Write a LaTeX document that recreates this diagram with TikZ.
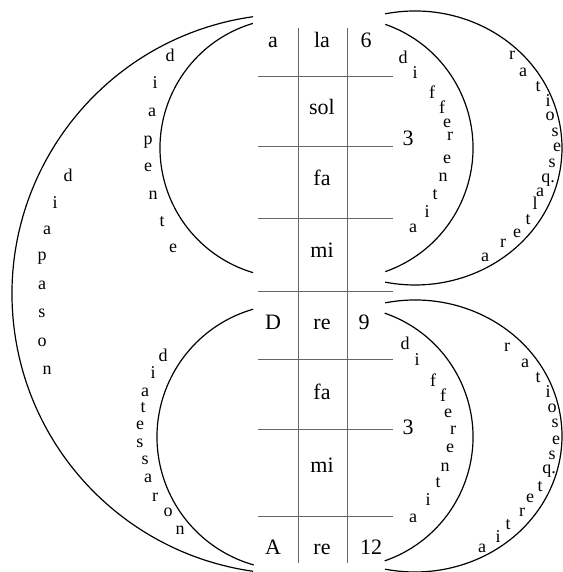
\documentclass[tikz,border=0pt]{standalone}
\usepackage{fontspec}
\setmainfont{Liberation Serif}
\usetikzlibrary{positioning}

\begin{document}
\begin{tikzpicture}[x=1pt, y=-1pt, line width=1.1pt,
    arcline/.style={draw=black, line width=1.2pt},
    rule/.style={draw=black!60, line width=0.9pt},
    cell/.style={font=\fontsize{22}{24}\selectfont, inner sep=0pt, text height=1.5ex, text depth=.25ex},
    ltr/.style={font=\fontsize{18}{20}\selectfont, inner sep=0pt}]
    \useasboundingbox (0,0) rectangle (562,572);
    % table
    \draw[rule] (298,28) -- (298,563);
    \draw[rule] (347,28) -- (347,563);
    \foreach \ry in {76,146,218,291,359,429,516}
      \draw[rule] (258,\ry) -- (393,\ry);
    \node[cell] (ca) at (273,45) {a};
    \node[cell] (cla) at (322,45) {la};
    \node[cell] (csix) at (366,45) {6};
    \node[cell] (csol) at (322,112) {sol};
    \node[cell] (cthreea) at (408,143) {3};
    \node[cell] (cfaa) at (322,183) {fa};
    \node[cell] (cmia) at (322,255) {mi};
    \node[cell] (cD) at (273,327) {D};
    \node[cell] (crea) at (322,327) {re};
    \node[cell] (cnine) at (364,327) {9};
    \node[cell] (cfab) at (322,397) {fa};
    \node[cell] (cthreeb) at (408,432) {3};
    \node[cell] (cmib) at (322,470) {mi};
    \node[cell] (cA) at (273,552) {A};
    \node[cell] (creb) at (322,552) {re};
    \node[cell] (ctwelve) at (371,552) {12};
    % left arcs
    \draw[arcline] (292,294) ++(262:280) arc[start angle=262, end angle=98, radius=280];
    \draw[arcline] (290,148) ++(253.4:130) arc[start angle=253.4, end angle=106.5, radius=130];
    \draw[arcline] (290,437) ++(253.9:133) arc[start angle=253.9, end angle=105.8, radius=133];
    % right arcs
    \draw[arcline] (342,148) ++(-70.7:131) arc[start angle=-70.7, end angle=70.7, radius=131];
    \draw[arcline] (415,148) ++(-101.7:147 and 137) arc[start angle=-101.7, end angle=101.7, x radius=147, y radius=137];
    \draw[arcline] (342,437) ++(-71:131) arc[start angle=-71, end angle=71, radius=131];
    \draw[arcline] (415,436) ++(-101.7:147 and 136) arc[start angle=-101.7, end angle=101.7, x radius=147, y radius=136];
    % diapason
    \foreach \ch/\px/\py [count=\k] in {d/68/175, i/55/203, a/47/230, p/42/258, a/42/285, s/42/313, o/42/342, n/47/370}
      \node[ltr] (dpsn\k) at (\px,\py) {\ch};
    % diapente
    \foreach \ch/\px/\py [count=\k] in {d/170/55, i/155/83, a/152/112, p/148/142, e/148/167, n/153/195, t/162/222, e/173/248}
      \node[ltr] (dpnt\k) at (\px,\py) {\ch};
    % diatessaron
    \foreach \ch/\px/\py [count=\k] in {d/163/355, i/153/373, a/145/392, t/143/408, e/140/425, s/140/443, s/145/460, a/148/478, r/155/497, o/168/512, n/180/530}
      \node[ltr] (dtsr\k) at (\px,\py) {\ch};
    % differentia (upper)
    \foreach \ch/\px/\py [count=\k] in {d/403/57, i/415/73, f/432/92, f/442/107, e/447/123, r/450/136, e/447/159, n/443/177, t/435/195, i/427/212, a/413/228}
      \node[ltr] (dfa\k) at (\px,\py) {\ch};
    % differentia (lower)
    \foreach \ch/\px/\py [count=\k] in {d/405/343, i/417/360, f/433/380, f/443/395, e/448/413, r/453/430, e/450/448, n/445/467, t/438/483, i/428/500, a/413/518}
      \node[ltr] (dfb\k) at (\px,\py) {\ch};
    % ratio sesq. altera
    \foreach \ch/\px/\py [count=\k] in {r/512/55, a/523/72, t/538/87, i/548/101, o/550/116, s/555/132, e/557/147, s/552/163, q./548/180, a/540/192, l/535/203, t/528/220, e/517/233, r/503/243, a/485/257}
      \node[ltr] (rsa\k) at (\px,\py) {\ch};
    % ratio sesq. tertia
    \foreach \ch/\px/\py [count=\k] in {r/507/347, a/525/363, t/538/378, i/548/392, o/552/408, s/555/423, e/556/440, s/552/455, q./549/471, t/540/487, e/530/498, r/522/512, t/508/525, i/498/537, a/482/548}
      \node[ltr] (rst\k) at (\px,\py) {\ch};
  \end{tikzpicture}
\end{document}
